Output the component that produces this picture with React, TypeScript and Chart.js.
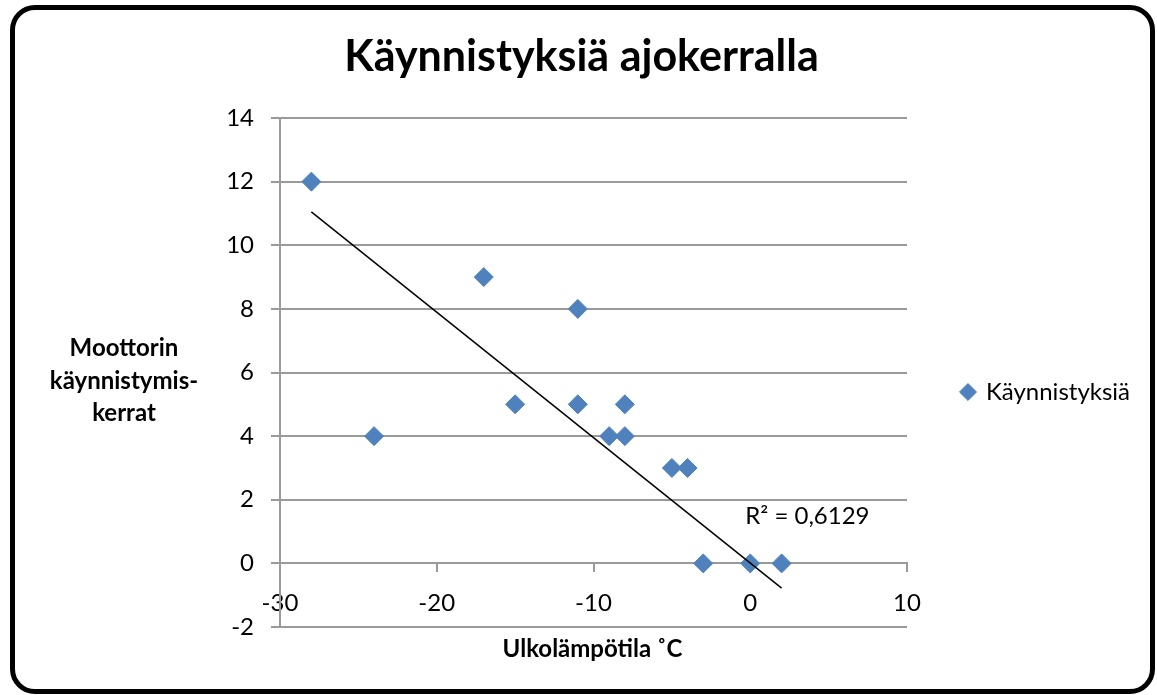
import React, { useEffect, useRef } from "react";
import { Chart, registerables } from "chart.js";

Chart.register(...registerables);

// ---- data ----
const temperatures = [-28, -24, -17, -15, -11, -11, -9, -8, -8, -5, -4, -3, 0, 2];
const starts = [12, 4, 9, 5, 8, 5, 4, 5, 4, 3, 3, 0, 0, 0];
const trendX = [-28, 2];
const trendY = [11.05, -0.78];
const seriesLabel = "Käynnistyksiä";
const chartTitle = "Käynnistyksiä ajokerralla";
const xAxisTitle = "Ulkolämpötila ˚C";
const yAxisTitleLines = ["Moottorin", "käynnistymis-", "kerrat"];
const rSquaredText = "R² = 0,6129";
const xRange = [-30, 10];
const yRange = [-2, 14];
const xStep = 10;
const yStep = 2;
const rLabelAnchor = [-0.32, 1.23];

const FONT = "Lato, 'Open Sans', sans-serif";
const GRID = "#9a9a9a";

// layout targets (plot area edges in the reference)
const PLOT_LEFT = 280;
const PLOT_RIGHT = 907;
const CANVAS_W = 1157;
const TITLE_CENTER = 581.5;

const textPlugin = {
  id: "excelTexts",
  afterDraw(chart: any) {
    const { ctx, chartArea, scales } = chart;
    ctx.save();
    ctx.fillStyle = "#000";
    ctx.textBaseline = "alphabetic";
    ctx.textAlign = "center";
    ctx.font = `bold 24px ${FONT}`;
    const midY = (chartArea.top + chartArea.bottom) / 2;
    yAxisTitleLines.forEach((line, i) => {
      ctx.fillText(line, 124, midY + 16 + (i - 1) * 32.5);
    });
    ctx.fillText(xAxisTitle, (chartArea.left + chartArea.right) / 2 - 1, 657);
    ctx.font = `24px ${FONT}`;
    ctx.textAlign = "left";
    ctx.fillText(
      rSquaredText,
      scales.x.getPixelForValue(rLabelAnchor[0]),
      scales.y.getPixelForValue(rLabelAnchor[1])
    );
    ctx.restore();
  },
};

export default function App() {
  const canvasRef = useRef<HTMLCanvasElement | null>(null);

  useEffect(() => {
    if (!canvasRef.current) return;
    const points = temperatures.map((t, i) => ({ x: t, y: starts[i] }));
    const trend = trendX.map((t, i) => ({ x: t, y: trendY[i] }));
    const pad = { left: 6, right: 0, top: 0, bottom: 68 };
    const chart = new Chart(canvasRef.current, {
      type: "scatter",
      data: {
        datasets: [
          {
            label: seriesLabel,
            data: points,
            pointStyle: "rectRot",
            pointRadius: 9.5,
            pointHoverRadius: 9.5,
            backgroundColor: "#4F81BD",
            borderColor: "#4F81BD",
            borderWidth: 1,
            order: 1,
          },
          {
            label: "trend",
            data: trend,
            showLine: true,
            pointRadius: 0,
            borderColor: "#000000",
            borderWidth: 1.5,
            backgroundColor: "#000000",
            order: 0,
          } as any,
        ],
      },
      options: {
        responsive: false,
        animation: false,
        layout: { padding: { ...pad } },
        scales: {
          x: {
            type: "linear",
            position: { y: 0 } as any,
            min: xRange[0],
            max: xRange[1],
            afterFit: (s: any) => {
              s.height = 0;
            },
            ticks: {
              stepSize: xStep,
              color: "#000",
              font: { family: FONT, size: 24 },
              padding: 17,
              maxRotation: 0,
              autoSkip: false,
            },
            grid: {
              drawOnChartArea: false,
              drawTicks: true,
              tickLength: 8,
              color: GRID,
              lineWidth: 2,
            },
            border: { display: true, color: GRID, width: 2 },
          },
          y: {
            type: "linear",
            min: yRange[0],
            max: yRange[1],
            afterFit: (s: any) => {
              s.width = PLOT_LEFT - pad.left;
            },
            ticks: {
              stepSize: yStep,
              color: "#000",
              font: { family: FONT, size: 24 },
              padding: 17,
            },
            grid: {
              color: GRID,
              lineWidth: 2,
              tickLength: 9,
            },
            border: { display: true, color: GRID, width: 2 },
          },
        },
        plugins: {
          title: {
            display: true,
            text: chartTitle,
            color: "#000",
            font: { family: FONT, size: 43, weight: "bold" },
            padding: { top: 31.7, bottom: 34.7 },
          },
          legend: {
            display: true,
            position: "right",
            align: "center",
            title: { display: true, text: "", padding: { top: 142.6, bottom: 0 } },
            labels: {
              usePointStyle: true,
              boxWidth: 12,
              boxHeight: 12,
              padding: 55,
              color: "#000",
              font: { family: FONT, size: 24 },
              filter: (item: any) => item.datasetIndex === 0,
            },
          },
          tooltip: { enabled: false },
        },
      },
      plugins: [textPlugin],
    });

    // second pass: put the plot's right edge where the reference has it
    const legendWidth = chart.legend ? chart.legend.width : 0;
    pad.right = Math.max(0, CANVAS_W - PLOT_RIGHT - legendWidth);
    pad.left = Math.max(0, 2 * TITLE_CENTER - CANVAS_W + pad.right);
    (chart.options as any).layout.padding = { ...pad };
    chart.update();

    return () => chart.destroy();
  }, []);

  return (
    <div
      style={{
        position: "fixed",
        left: 0,
        top: 0,
        width: 1157,
        height: 695,
        background: "#fff",
        overflow: "hidden",
      }}
    >
      <canvas
        ref={canvasRef}
        width={1157}
        height={695}
        style={{ position: "absolute", left: 0, top: 0, width: 1157, height: 695 }}
      />
      <div
        style={{
          position: "absolute",
          left: 10,
          top: 5,
          width: 1145,
          height: 689,
          boxSizing: "border-box",
          border: "5px solid #000",
          borderRadius: 25,
          pointerEvents: "none",
        }}
      />
    </div>
  );
}
